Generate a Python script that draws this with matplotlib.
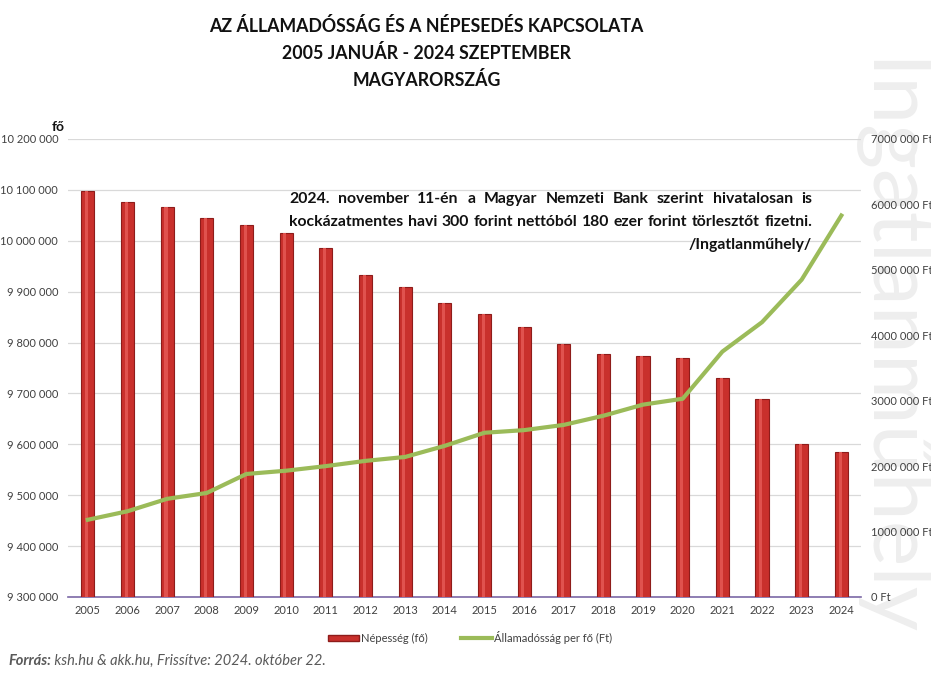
import matplotlib.pyplot as plt
import numpy as np
from matplotlib.ticker import FuncFormatter, MultipleLocator
from matplotlib.patches import Patch
from matplotlib.lines import Line2D

plt.rcParams['font.family'] = ['Lato', 'DejaVu Sans']

years = [str(y) for y in range(2005, 2025)]
population = [10097549, 10076581, 10066158, 10045401, 10030975, 10014324,
              9985722, 9931925, 9908798, 9877365, 9855571, 9830485,
              9797561, 9778371, 9772756, 9769526, 9730772, 9689010,
              9599744, 9584627]
debt_per_capita = [1180000, 1310000, 1500000, 1590000, 1880000, 1930000,
                   2000000, 2080000, 2140000, 2310000, 2510000, 2550000,
                   2630000, 2770000, 2940000, 3030000, 3750000, 4200000,
                   4850000, 5830000]

title = "AZ ÁLLAMADÓSSÁG ÉS A NÉPESEDÉS KAPCSOLATA\n2005 JANUÁR - 2024 SZEPTEMBER\nMAGYARORSZÁG"
note_lines = ["2024. november 11-én a Magyar Nemzeti Bank szerint hivatalosan is",
              "kockázatmentes havi 300 forint nettóból 180 ezer forint törlesztőt fizetni.",
              "/Ingatlanműhely/"]
source_bold = "Forrás:"
source_rest = " ksh.hu & akk.hu, Frissítve: 2024. október 22."

fig = plt.figure(figsize=(9.31, 6.76), dpi=100)

# watermark, behind everything
fig.text(0.955, 0.485, "Ingatlanműhely", rotation=270, ha='center',
         va='center', fontsize=62, color='#eeeeee', zorder=-5)

ax = fig.add_axes([0.073, 0.1169, 0.852, 0.6775])
ax2 = ax.twinx()
ax.patch.set_alpha(0)
ax2.patch.set_alpha(0)

x = np.arange(len(years))
ax.bar(x, population, width=0.33, color='#c9302c', edgecolor='#8e1c1a',
       linewidth=0.8, zorder=3)
# light stripe to hint the cylinder look of the original bars
ax.bar(x - 0.03, np.array(population) - 9300000, bottom=9300000, width=0.08,
       color='#e0524e', linewidth=0, zorder=3.5)
ax.set_ylim(9300000, 10200000)
ax.set_xlim(-0.5, len(years) - 0.5)
ax.yaxis.set_major_locator(MultipleLocator(100000))
ax.yaxis.set_major_formatter(FuncFormatter(lambda v, p: f"{int(v):,}".replace(",", " ")))
ax.set_xticks(x)
ax.set_xticklabels(years)
ax.grid(axis='y', color='#d9d9d9', linewidth=0.9, zorder=0)
ax.set_axisbelow(True)

ax2.plot(x, debt_per_capita, color='#9bbb59', linewidth=3, zorder=4)
ax2.set_ylim(0, 7000000)
ax2.yaxis.set_major_locator(MultipleLocator(1000000))


def ft_fmt(v, p):
    v = int(round(v))
    if v == 0:
        return "0 Ft"
    return f"{v // 1000000}000 000 Ft"


ax2.yaxis.set_major_formatter(FuncFormatter(ft_fmt))

for a in (ax, ax2):
    for s in ('top', 'right', 'left'):
        a.spines[s].set_visible(False)
    a.tick_params(length=0, labelsize=8, colors='#404040', pad=7)
ax.spines['bottom'].set_color('#7b68a6')
ax.spines['bottom'].set_linewidth(1.2)
ax2.spines['bottom'].set_visible(False)
ax.tick_params(axis='x', pad=6)

fig.text(0.458, 0.975, title, ha='center', va='top', fontsize=12.8,
         fontweight='bold', linespacing=1.6, color='#111111')
fig.text(0.056, 0.812, "fő", ha='left', va='center', fontsize=10,
         fontweight='bold', color='#111111')

# justified note text
fig.canvas.draw()
renderer = fig.canvas.get_renderer()
x_left, x_right = 289, 812
line_y = [199, 222, 245]
note_fs = 11.3
for i, line in enumerate(note_lines):
    yf = 1 - line_y[i] / 676
    if i == 2:
        fig.text(x_right / 931, yf, line, ha='right', va='center',
                 fontsize=note_fs, fontweight='bold', color='#111111')
        continue
    words = line.split(" ")
    widths = []
    for w in words:
        t = fig.text(0, 0, w, fontsize=note_fs, fontweight='bold')
        widths.append(t.get_window_extent(renderer).width)
        t.remove()
    gap = (x_right - x_left - sum(widths)) / (len(words) - 1)
    pos = x_left
    for w, wd in zip(words, widths):
        fig.text(pos / 931, yf, w, ha='left', va='center', fontsize=note_fs,
                 fontweight='bold', color='#111111')
        pos += wd + gap

handles = [Patch(facecolor='#c9302c', edgecolor='#8e1c1a'),
           Line2D([0], [0], color='#9bbb59', linewidth=3)]
fig.legend(handles, ["Népesség (fő)", "Államadósság per fő (Ft)"],
           loc='center', bbox_to_anchor=(0.505, 0.057), ncol=2, frameon=False,
           fontsize=8, handlelength=2.8, handleheight=0.5, columnspacing=3,
           handletextpad=0.2, labelcolor='#404040')

t1 = fig.text(0.009, 0.022, source_bold, ha='left', va='center', fontsize=10.5,
              fontstyle='italic', fontweight='bold', color='#595959')
bb = t1.get_window_extent(renderer)
fig.text(bb.x1 / 931, 0.022, source_rest, ha='left', va='center', fontsize=10.5,
         fontstyle='italic', color='#595959')

fig.savefig('out.png', dpi=100, facecolor='white')
